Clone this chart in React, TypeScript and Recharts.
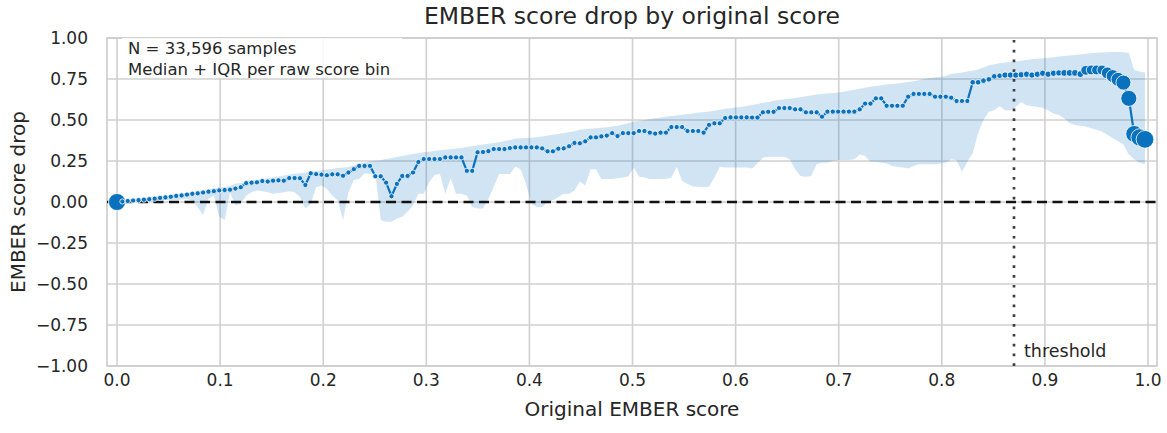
import React from "react";
import {
  ComposedChart,
  Area,
  Line,
  XAxis,
  YAxis,
  CartesianGrid,
  ReferenceLine,
  ReferenceArea,
} from "recharts";

// Median EMBER score drop per raw score bin
const MEDIAN = [
  0.0, 0.003, 0.006, 0.009, 0.011, 0.014, 0.017, 0.02, 0.025, 0.028,
  0.032, 0.037, 0.04, 0.045, 0.05, 0.053, 0.058, 0.063, 0.066, 0.071,
  0.073, 0.075, 0.082, 0.09, 0.115, 0.118, 0.12, 0.128, 0.125, 0.13,
  0.132, 0.13, 0.146, 0.146, 0.145, 0.104, 0.175, 0.17, 0.167, 0.163,
  0.169, 0.169, 0.16, 0.18, 0.2, 0.22, 0.22, 0.22, 0.157, 0.157,
  0.118, 0.035, 0.11, 0.159, 0.159, 0.18, 0.244, 0.262, 0.262, 0.262,
  0.262, 0.272, 0.272, 0.272, 0.272, 0.19, 0.19, 0.303, 0.305, 0.31,
  0.323, 0.323, 0.323, 0.329, 0.333, 0.333, 0.333, 0.333, 0.333, 0.327,
  0.309, 0.309, 0.325, 0.327, 0.34, 0.36, 0.358, 0.37, 0.394, 0.394,
  0.4, 0.405, 0.42, 0.402, 0.42, 0.42, 0.42, 0.433, 0.433, 0.423,
  0.417, 0.423, 0.423, 0.457, 0.457, 0.457, 0.433, 0.433, 0.433, 0.423,
  0.47, 0.48, 0.48, 0.512, 0.516, 0.516, 0.516, 0.516, 0.515, 0.515,
  0.547, 0.55, 0.55, 0.573, 0.573, 0.573, 0.565, 0.565, 0.547, 0.547,
  0.547, 0.52, 0.551, 0.551, 0.551, 0.551, 0.551, 0.551, 0.565, 0.6,
  0.6, 0.632, 0.632, 0.587, 0.587, 0.587, 0.587, 0.642, 0.659, 0.659,
  0.659, 0.659, 0.642, 0.642, 0.642, 0.636, 0.616, 0.616, 0.616, 0.73,
  0.73, 0.74, 0.748, 0.766, 0.77, 0.774, 0.774, 0.774, 0.776, 0.779,
  0.774, 0.779, 0.785, 0.779, 0.785, 0.787, 0.787, 0.787, 0.787, 0.78,
  0.803, 0.805, 0.805, 0.805, 0.787, 0.768, 0.748, 0.728, 0.632, 0.415,
  0.394, 0.382,
];

// 75th percentile per bin
const Q75 = [
  0.004, 0.008, 0.011, 0.014, 0.017, 0.021, 0.025, 0.029, 0.034, 0.038,
  0.042, 0.047, 0.051, 0.056, 0.062, 0.066, 0.072, 0.077, 0.082, 0.088,
  0.092, 0.098, 0.112, 0.116, 0.124, 0.132, 0.136, 0.141, 0.146, 0.15,
  0.156, 0.162, 0.168, 0.172, 0.176, 0.18, 0.184, 0.188, 0.193, 0.198,
  0.203, 0.207, 0.211, 0.214, 0.222, 0.232, 0.24, 0.248, 0.252, 0.255,
  0.262, 0.268, 0.275, 0.281, 0.287, 0.293, 0.298, 0.303, 0.307, 0.311,
  0.315, 0.318, 0.322, 0.326, 0.33, 0.335, 0.34, 0.345, 0.35, 0.355,
  0.36, 0.365, 0.372, 0.378, 0.385, 0.388, 0.39, 0.392, 0.395, 0.4,
  0.405, 0.41, 0.415, 0.42, 0.425, 0.432, 0.44, 0.443, 0.446, 0.45,
  0.453, 0.456, 0.46, 0.465, 0.472, 0.48, 0.49, 0.495, 0.5, 0.505,
  0.51, 0.515, 0.52, 0.524, 0.528, 0.532, 0.536, 0.54, 0.545, 0.548,
  0.552, 0.556, 0.562, 0.568, 0.572, 0.576, 0.58, 0.585, 0.592, 0.598,
  0.604, 0.61, 0.618, 0.622, 0.626, 0.63, 0.634, 0.638, 0.645, 0.65,
  0.655, 0.658, 0.661, 0.664, 0.668, 0.672, 0.678, 0.684, 0.69, 0.697,
  0.703, 0.708, 0.712, 0.716, 0.72, 0.723, 0.727, 0.731, 0.736, 0.742,
  0.75, 0.756, 0.76, 0.763, 0.77, 0.78, 0.785, 0.79, 0.795, 0.8,
  0.808, 0.82, 0.832, 0.84, 0.846, 0.85, 0.853, 0.857, 0.862, 0.866,
  0.87, 0.874, 0.877, 0.88, 0.883, 0.887, 0.89, 0.893, 0.896, 0.9,
  0.904, 0.907, 0.91, 0.912, 0.913, 0.914, 0.914, 0.913, 0.91, 0.805,
  0.795, 0.79,
];

// 25th percentile per bin
const Q25 = [
  0.0, 0.0, 0.001, 0.003, 0.004, 0.005, 0.006, 0.008, 0.01, 0.012,
  0.013, 0.012, 0.015, 0.018, 0.008, -0.03, -0.08, 0.02, 0.04, -0.09,
  -0.11, 0.06, -0.02, -0.01, 0.04, 0.06, 0.07, 0.065, 0.06, 0.05,
  0.055, 0.06, 0.065, 0.06, 0.03, -0.04, -0.01, 0.09, 0.1, 0.08,
  0.04, 0.01, -0.11, 0.06, 0.134, 0.14, 0.175, 0.17, 0.18, -0.11,
  -0.12, -0.12, -0.1, -0.09, -0.06, -0.02, 0.05, 0.05, 0.12, 0.165,
  0.17, 0.05, 0.145, 0.05, 0.05, 0.04, -0.03, -0.04, -0.04, 0.02,
  0.093, 0.17, 0.17, 0.17, 0.215, 0.2, 0.11, -0.01, -0.03, -0.03,
  0.0, 0.01, 0.03, 0.05, 0.05, 0.07, 0.125, 0.1, 0.2, 0.2,
  0.14, 0.14, 0.14, 0.145, 0.15, 0.155, 0.21, 0.155, 0.15, 0.14,
  0.14, 0.14, 0.14, 0.15, 0.215, 0.13, 0.11, 0.095, 0.093, 0.09,
  0.093, 0.15, 0.215, 0.21, 0.21, 0.21, 0.21, 0.21, 0.205, 0.236,
  0.27, 0.276, 0.276, 0.276, 0.276, 0.26, 0.2, 0.158, 0.154, 0.158,
  0.23, 0.24, 0.24, 0.25, 0.256, 0.256, 0.256, 0.26, 0.29, 0.28,
  0.245, 0.245, 0.24, 0.235, 0.22, 0.215, 0.21, 0.205, 0.22, 0.23,
  0.23, 0.23, 0.23, 0.235, 0.24, 0.26, 0.255, 0.185, 0.245, 0.297,
  0.42, 0.5, 0.55, 0.56, 0.585, 0.56, 0.56, 0.58, 0.61, 0.59,
  0.585, 0.58, 0.575, 0.56, 0.54, 0.53, 0.51, 0.48, 0.47, 0.465,
  0.46, 0.45, 0.44, 0.43, 0.41, 0.39, 0.37, 0.35, 0.29, 0.26,
  0.24, 0.23,
];

// samples per bin (drives marker size)
const BIN_COUNT = [
  2900, 50, 50, 50, 50, 50, 50, 50, 50, 50, 50, 50, 50, 50, 50, 50,
  50, 50, 50, 50, 50, 50, 50, 50, 50, 50, 50, 50, 50, 50, 50, 50,
  50, 50, 50, 50, 50, 50, 50, 50, 50, 50, 50, 50, 50, 50, 50, 50,
  50, 50, 50, 50, 50, 50, 50, 50, 50, 50, 50, 50, 50, 50, 50, 50,
  50, 50, 50, 50, 50, 50, 50, 50, 50, 50, 50, 50, 50, 50, 50, 50,
  50, 50, 50, 50, 50, 50, 50, 50, 50, 50, 50, 50, 50, 50, 50, 50,
  50, 50, 50, 50, 50, 50, 50, 50, 50, 50, 50, 50, 50, 50, 50, 50,
  50, 50, 50, 50, 50, 50, 50, 50, 50, 50, 50, 50, 50, 50, 50, 50,
  50, 50, 50, 50, 50, 50, 50, 50, 50, 50, 50, 50, 50, 50, 50, 50,
  50, 50, 50, 50, 50, 50, 50, 50, 50, 50, 50, 50, 50, 50, 50, 150,
  150, 150, 150, 150, 150, 320, 320, 320, 320, 320, 320, 320, 320, 320, 320,
  320, 450, 450, 450, 450, 1150, 1150, 1150, 1150, 1650, 1900, 2150, 2400,
  2650, 2850, 2950, 3050,
];

const BIN_STEP = 0.00522;
const X_TICKS = [0, 0.1, 0.2, 0.3, 0.4, 0.5, 0.6, 0.7, 0.8, 0.9, 1.0];
const Y_TICKS = [-1, -0.75, -0.5, -0.25, 0, 0.25, 0.5, 0.75, 1];
const THRESHOLD = 0.87;
const X_DOMAIN: [number, number] = [-0.0097, 1.0087];

const BLUE = "#0a72bd";
const FONT = '"DejaVu Sans", sans-serif';
const TEXT = "#262626";

const data = MEDIAN.map((m, i) => ({
  score: i * BIN_STEP,
  median: m,
  iqr: [Q25[i], Q75[i]],
  count: BIN_COUNT[i],
}));

const dotRadius = (count: number) => 2.6 + (count - 50) / 480;

const renderDot = (props: any) => {
  const { cx, cy, payload, index } = props;
  if (cx == null || cy == null) return <g key={`dot-${index}`} />;
  return (
    <circle
      key={`dot-${index}`}
      cx={cx}
      cy={cy}
      r={dotRadius(payload.count)}
      fill={BLUE}
      stroke="#ffffff"
      strokeWidth={0.8}
    />
  );
};

const ThresholdLabel = (props: any) => {
  const vb = props.viewBox || {};
  return (
    <text
      x={vb.x + 10}
      y={vb.y + vb.height - 9}
      fill={TEXT}
      fontSize={17.5}
      fontFamily={FONT}
    >
      threshold
    </text>
  );
};

const fmtY = (v: number) => (v < 0 ? "\u2212" : "") + Math.abs(v).toFixed(2);

export default function App() {
  return (
    <div
      style={{
        position: "absolute",
        left: 0,
        top: 0,
        width: 1167,
        height: 433,
        background: "#ffffff",
        fontFamily: FONT,
      }}
    >
      <div
        style={{
          position: "absolute",
          left: 107,
          top: 2,
          width: 1050,
          textAlign: "center",
          fontSize: 23.5,
          color: TEXT,
        }}
      >
        EMBER score drop by original score
      </div>

      <ComposedChart
        width={1167}
        height={433}
        data={data}
        margin={{ top: 38, right: 10, bottom: 0, left: 0 }}
      >
        <CartesianGrid
          stroke="#d0d0d0"
          strokeWidth={1.6}
          horizontalValues={Y_TICKS}
          verticalValues={X_TICKS}
        />
        <XAxis
          type="number"
          dataKey="score"
          domain={X_DOMAIN}
          ticks={X_TICKS}
          allowDataOverflow
          height={67}
          axisLine={false}
          tickLine={false}
          tickSize={0}
          tickMargin={8}
          tickFormatter={(v: number) => v.toFixed(1)}
          tick={{ fontSize: 17, fill: TEXT, fontFamily: FONT }}
        />
        <YAxis
          type="number"
          domain={[-1, 1]}
          ticks={Y_TICKS}
          allowDataOverflow
          width={107}
          axisLine={false}
          tickLine={false}
          tickSize={0}
          tickMargin={19}
          tickFormatter={fmtY}
          tick={{ fontSize: 17, fill: TEXT, fontFamily: FONT }}
        />
        <ReferenceArea
          x1={X_DOMAIN[0]}
          x2={X_DOMAIN[1]}
          y1={-1}
          y2={1}
          fill="none"
          stroke="#cccccc"
          strokeWidth={1.6}
          ifOverflow="visible"
        />
        <Area
          type="linear"
          dataKey="iqr"
          stroke="none"
          fill={BLUE}
          fillOpacity={0.19}
          isAnimationActive={false}
        />
        <ReferenceLine
          x={THRESHOLD}
          stroke="#404040"
          strokeWidth={2.7}
          strokeDasharray="2.7 7.1"
          label={<ThresholdLabel />}
        />
        <Line
          type="linear"
          dataKey="median"
          stroke={BLUE}
          strokeWidth={2.2}
          dot={renderDot}
          activeDot={false}
          isAnimationActive={false}
        />
        <ReferenceLine
          y={0}
          stroke="#111111"
          strokeWidth={2.6}
          strokeDasharray="10 5.5"
        />
      </ComposedChart>

      <div
        style={{
          position: "absolute",
          left: 122,
          top: 38,
          width: 280,
          height: 40,
          background: "rgba(255,255,255,0.85)",
          boxSizing: "border-box",
          padding: "0 0 0 6px",
          fontSize: 16.5,
          lineHeight: "21px",
          color: TEXT,
          whiteSpace: "nowrap",
        }}
      >
        <div>N = 33,596 samples</div>
        <div>Median + IQR per raw score bin</div>
      </div>

      <div
        style={{
          position: "absolute",
          left: 107,
          top: 397,
          width: 1050,
          textAlign: "center",
          fontSize: 20,
          color: TEXT,
        }}
      >
        Original EMBER score
      </div>

      <div
        style={{
          position: "absolute",
          left: 18,
          top: 202,
          transform: "translate(-50%, -50%) rotate(-90deg)",
          whiteSpace: "nowrap",
          fontSize: 20,
          color: TEXT,
        }}
      >
        EMBER score drop
      </div>
    </div>
  );
}
